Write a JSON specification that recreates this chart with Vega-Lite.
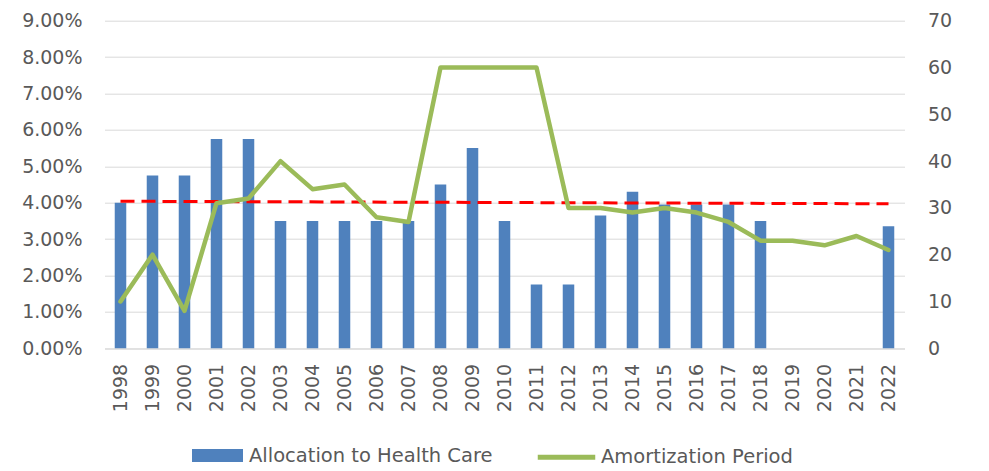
{
  "$schema": "https://vega.github.io/schema/vega-lite/v6.json",
  "width": 800,
  "height": 327.6,
  "autosize": {"type": "none"},
  "padding": {"left": 104.5, "top": 20.7, "right": 84.5, "bottom": 122.7},
  "background": "white",
  "data": {"values": [
    {"year": "1998", "alloc": 0.04, "amort": 10, "target": 0.0404},
    {"year": "1999", "alloc": 0.0475, "amort": 20, "target": null},
    {"year": "2000", "alloc": 0.0475, "amort": 8, "target": null},
    {"year": "2001", "alloc": 0.0575, "amort": 31, "target": null},
    {"year": "2002", "alloc": 0.0575, "amort": 32, "target": null},
    {"year": "2003", "alloc": 0.035, "amort": 40, "target": null},
    {"year": "2004", "alloc": 0.035, "amort": 34, "target": null},
    {"year": "2005", "alloc": 0.035, "amort": 35, "target": null},
    {"year": "2006", "alloc": 0.035, "amort": 28, "target": null},
    {"year": "2007", "alloc": 0.035, "amort": 27, "target": null},
    {"year": "2008", "alloc": 0.045, "amort": 60, "target": null},
    {"year": "2009", "alloc": 0.055, "amort": 60, "target": null},
    {"year": "2010", "alloc": 0.035, "amort": 60, "target": null},
    {"year": "2011", "alloc": 0.0175, "amort": 60, "target": null},
    {"year": "2012", "alloc": 0.0175, "amort": 30, "target": null},
    {"year": "2013", "alloc": 0.0365, "amort": 30, "target": null},
    {"year": "2014", "alloc": 0.043, "amort": 29, "target": null},
    {"year": "2015", "alloc": 0.0395, "amort": 30, "target": null},
    {"year": "2016", "alloc": 0.0395, "amort": 29, "target": null},
    {"year": "2017", "alloc": 0.0395, "amort": 27, "target": null},
    {"year": "2018", "alloc": 0.035, "amort": 23, "target": null},
    {"year": "2019", "alloc": null, "amort": 23, "target": null},
    {"year": "2020", "alloc": null, "amort": 22, "target": null},
    {"year": "2021", "alloc": null, "amort": 24, "target": null},
    {"year": "2022", "alloc": 0.0335, "amort": 21, "target": 0.0397}
  ]},
  "config": {
    "view": {"stroke": null},
    "font": "DejaVu Sans",
    "axis": {"labelColor": "#595959", "labelFont": "DejaVu Sans", "labelOverlap": false},
    "legend": {"labelColor": "#595959", "labelFont": "DejaVu Sans"}
  },
  "encoding": {
    "x": {
      "field": "year",
      "type": "ordinal",
      "scale": {"paddingInner": 0, "paddingOuter": 0},
      "axis": {
        "title": null,
        "labelAngle": -90,
        "labelPadding": 15,
        "ticks": false,
        "grid": false,
        "domainColor": "#d9d9d9",
        "domainWidth": 1,
        "labelFontSize": 19,
        "labelOverlap": false
      }
    }
  },
  "layer": [
    {
      "layer": [
        {
          "mark": {"type": "bar", "width": {"band": 0.36}},
          "encoding": {
            "y": {
              "field": "alloc",
              "type": "quantitative",
              "scale": {"domain": [0, 0.09], "nice": false},
              "axis": {
                "orient": "left",
                "format": ".2%",
                "values": [0, 0.01, 0.02, 0.03, 0.04, 0.05, 0.06, 0.07, 0.08, 0.09],
                "title": null,
                "grid": true,
                "gridColor": "#d9d9d9",
                "domain": false,
                "ticks": false,
                "labelPadding": 22.5,
                "labelFontSize": 19,
                "labelOverlap": false
              }
            },
            "fill": {
              "datum": "Allocation to Health Care",
              "type": "nominal",
              "scale": {"range": ["#4f81bd"]},
              "legend": {
                "orient": "none",
                "legendX": 87.5,
                "legendY": 409.3,
                "title": null,
                "padding": 0,
                "symbolType": "M-1,-0.255H1V0.255H-1Z",
                "symbolSize": 2601,
                "symbolStrokeWidth": 0,
                "labelOffset": 6,
                "labelFontSize": 19.5,
                "labelLimit": 400
              }
            }
          }
        },
        {
          "transform": [{"filter": "datum.target != null"}],
          "mark": {"type": "line", "stroke": "#ff0000", "strokeDash": [14, 7], "strokeWidth": 3},
          "encoding": {
            "y": {
              "field": "target",
              "type": "quantitative",
              "scale": {"domain": [0, 0.09], "nice": false},
              "axis": {
                "orient": "left",
                "format": ".2%",
                "values": [0, 0.01, 0.02, 0.03, 0.04, 0.05, 0.06, 0.07, 0.08, 0.09],
                "title": null,
                "grid": true,
                "gridColor": "#d9d9d9",
                "domain": false,
                "ticks": false,
                "labelPadding": 22.5,
                "labelFontSize": 19,
                "labelOverlap": false
              }
            }
          }
        }
      ]
    },
    {
      "mark": {"type": "line", "strokeWidth": 4.5, "strokeJoin": "round", "strokeCap": "round"},
      "encoding": {
        "y": {
          "field": "amort",
          "type": "quantitative",
          "scale": {"domain": [0, 70], "nice": false},
          "axis": {
            "orient": "right",
            "values": [0, 10, 20, 30, 40, 50, 60, 70],
            "title": null,
            "grid": false,
            "domain": false,
            "ticks": false,
            "labelPadding": 23,
            "labelFontSize": 19,
            "labelOverlap": false
          }
        },
        "stroke": {
          "datum": "Amortization Period",
          "type": "nominal",
          "scale": {"range": ["#9bbb59"]},
          "legend": {
            "orient": "none",
            "legendX": 430.5,
            "legendY": 405,
            "title": null,
            "padding": 0,
            "symbolType": "stroke",
            "symbolSize": 3306,
            "symbolStrokeWidth": 5,
            "labelOffset": 3,
            "labelFontSize": 19.5,
            "labelLimit": 400
          }
        }
      }
    }
  ],
  "resolve": {"scale": {"y": "independent"}}
}
